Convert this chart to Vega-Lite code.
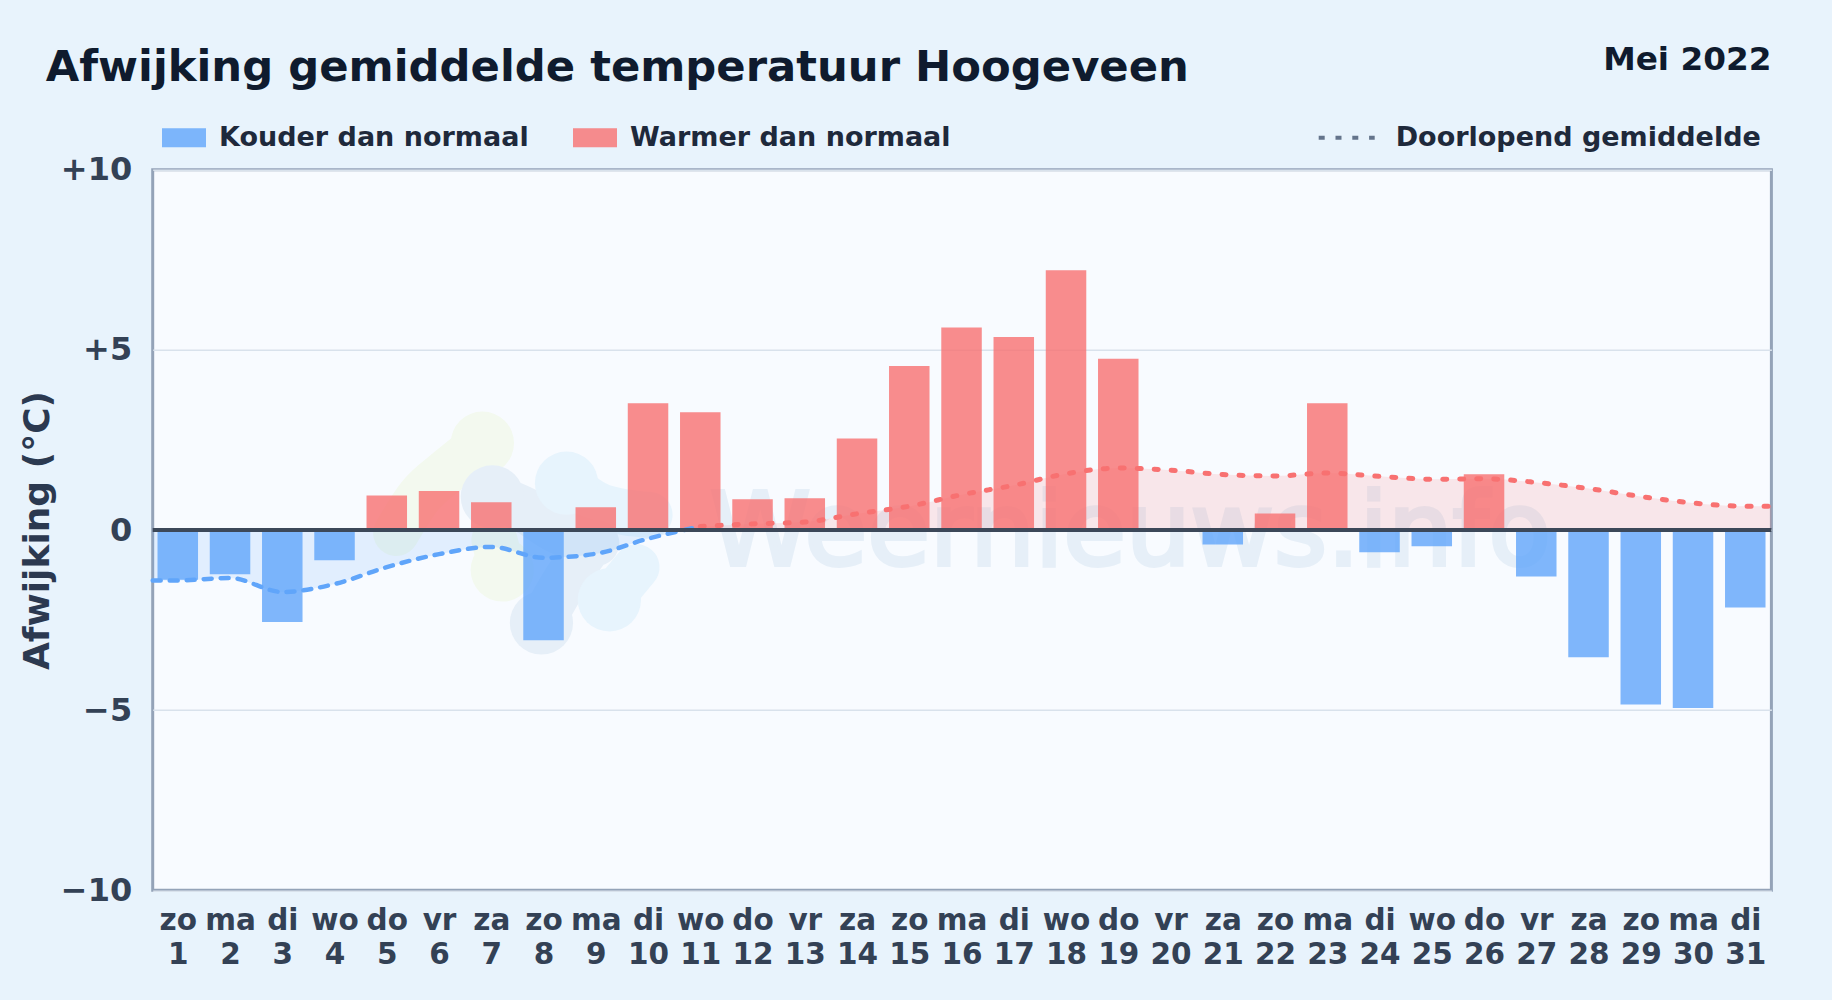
{"$schema":"https://vega.github.io/schema/vega-lite/v6.json","width":1618.7,"height":720.6,"autosize":{"type":"none"},"padding":{"left":152.7,"top":169.7,"right":60.6,"bottom":109.7},"background":"#e8f3fc","title":{"text":"Afwijking gemiddelde temperatuur Hoogeveen","anchor":"start","frame":"group","dx":-107,"offset":-80.5,"baseline":"alphabetic","font":"DejaVu Sans","fontSize":43.3,"fontWeight":"bold","color":"#0f1b2e"},"config":{"view":{"fill":"#f8fbff","stroke":"#94a3b8","strokeWidth":3},"font":"DejaVu Sans"},"datasets":{"dagen":[{"dag":1,"afw":-1.38,"soort":"Kouder dan normaal"},{"dag":2,"afw":-1.23,"soort":"Kouder dan normaal"},{"dag":3,"afw":-2.55,"soort":"Kouder dan normaal"},{"dag":4,"afw":-0.84,"soort":"Kouder dan normaal"},{"dag":5,"afw":0.96,"soort":"Warmer dan normaal"},{"dag":6,"afw":1.08,"soort":"Warmer dan normaal"},{"dag":7,"afw":0.77,"soort":"Warmer dan normaal"},{"dag":8,"afw":-3.06,"soort":"Kouder dan normaal"},{"dag":9,"afw":0.63,"soort":"Warmer dan normaal"},{"dag":10,"afw":3.52,"soort":"Warmer dan normaal"},{"dag":11,"afw":3.27,"soort":"Warmer dan normaal"},{"dag":12,"afw":0.85,"soort":"Warmer dan normaal"},{"dag":13,"afw":0.88,"soort":"Warmer dan normaal"},{"dag":14,"afw":2.54,"soort":"Warmer dan normaal"},{"dag":15,"afw":4.55,"soort":"Warmer dan normaal"},{"dag":16,"afw":5.62,"soort":"Warmer dan normaal"},{"dag":17,"afw":5.36,"soort":"Warmer dan normaal"},{"dag":18,"afw":7.21,"soort":"Warmer dan normaal"},{"dag":19,"afw":4.75,"soort":"Warmer dan normaal"},{"dag":20,"afw":0,"soort":"Warmer dan normaal"},{"dag":21,"afw":-0.4,"soort":"Kouder dan normaal"},{"dag":22,"afw":0.46,"soort":"Warmer dan normaal"},{"dag":23,"afw":3.52,"soort":"Warmer dan normaal"},{"dag":24,"afw":-0.62,"soort":"Kouder dan normaal"},{"dag":25,"afw":-0.45,"soort":"Kouder dan normaal"},{"dag":26,"afw":1.55,"soort":"Warmer dan normaal"},{"dag":27,"afw":-1.29,"soort":"Kouder dan normaal"},{"dag":28,"afw":-3.53,"soort":"Kouder dan normaal"},{"dag":29,"afw":-4.84,"soort":"Kouder dan normaal"},{"dag":30,"afw":-4.94,"soort":"Kouder dan normaal"},{"dag":31,"afw":-2.15,"soort":"Kouder dan normaal"}],"koud":[{"dag":0.52,"gem":-1.4},{"dag":1,"gem":-1.4},{"dag":2,"gem":-1.33},{"dag":3,"gem":-1.72},{"dag":4,"gem":-1.5},{"dag":5,"gem":-1.03},{"dag":6,"gem":-0.67},{"dag":7,"gem":-0.47},{"dag":8,"gem":-0.77},{"dag":9,"gem":-0.66},{"dag":10,"gem":-0.24},{"dag":11,"gem":0.1}],"warm":[{"dag":11,"gem":0.1},{"dag":12,"gem":0.17},{"dag":13,"gem":0.22},{"dag":14,"gem":0.45},{"dag":15,"gem":0.66},{"dag":16,"gem":0.98},{"dag":17,"gem":1.24},{"dag":18,"gem":1.56},{"dag":19,"gem":1.72},{"dag":20,"gem":1.66},{"dag":21,"gem":1.54},{"dag":22,"gem":1.5},{"dag":23,"gem":1.58},{"dag":24,"gem":1.49},{"dag":25,"gem":1.41},{"dag":26,"gem":1.42},{"dag":27,"gem":1.32},{"dag":28,"gem":1.15},{"dag":29,"gem":0.93},{"dag":30,"gem":0.75},{"dag":31,"gem":0.66},{"dag":31.5,"gem":0.66}],"logo":[{"vlek":"groen","volg":1,"dag":6.83,"w":2.41},{"vlek":"groen","volg":2,"dag":6.19,"w":1.67},{"vlek":"groen","volg":3,"dag":5.62,"w":0.92},{"vlek":"groen","volg":4,"dag":5.18,"w":-0.08},{"vlek":"groen2","volg":1,"dag":7.21,"w":-1.11},{"vlek":"groen2","volg":2,"dag":7.06,"w":-0.28},{"vlek":"blauw","volg":1,"dag":8.44,"w":1.3},{"vlek":"blauw","volg":2,"dag":9.13,"w":0.64},{"vlek":"blauw","volg":3,"dag":10.03,"w":0.42},{"vlek":"blauw2","volg":1,"dag":9.78,"w":-1.03},{"vlek":"blauw2","volg":2,"dag":9.26,"w":-1.94},{"vlek":"leisteen","volg":1,"dag":7.02,"w":0.92},{"vlek":"leisteen","volg":2,"dag":7.63,"w":0.56},{"vlek":"leisteen","volg":3,"dag":8.25,"w":0},{"vlek":"leisteen","volg":4,"dag":9.01,"w":-0.36},{"vlek":"leisteen","volg":5,"dag":8.49,"w":-1.25},{"vlek":"leisteen","volg":6,"dag":7.96,"w":-2.58}],"logoRond":[{"vlek":"groen","dag":6.83,"w":2.41},{"vlek":"groen2","dag":7.21,"w":-1.11},{"vlek":"blauw","dag":8.44,"w":1.3},{"vlek":"blauw2","dag":9.26,"w":-1.94},{"vlek":"leisteen","dag":7.02,"w":0.92},{"vlek":"leisteen","dag":7.96,"w":-2.58}]},"layer":[{"data":{"name":"logo"},"mark":{"type":"line","strokeWidth":46,"strokeCap":"round","strokeJoin":"round","interpolate":"monotone"},"encoding":{"x":{"field":"dag","type":"quantitative","scale":{"domain":[0.52,31.5],"nice":false,"zero":false,"padding":0},"axis":{"values":[1,2,3,4,5,6,7,8,9,10,11,12,13,14,15,16,17,18,19,20,21,22,23,24,25,26,27,28,29,30,31],"title":null,"grid":false,"domain":false,"ticks":false,"labelOverlap":false,"labelFlush":false,"labelPadding":16,"labelFont":"DejaVu Sans","labelFontSize":29.5,"labelFontWeight":"bold","labelColor":"#334155","labelLineHeight":34,"labelExpr":"[['zo','1'],['ma','2'],['di','3'],['wo','4'],['do','5'],['vr','6'],['za','7'],['zo','8'],['ma','9'],['di','10'],['wo','11'],['do','12'],['vr','13'],['za','14'],['zo','15'],['ma','16'],['di','17'],['wo','18'],['do','19'],['vr','20'],['za','21'],['zo','22'],['ma','23'],['di','24'],['wo','25'],['do','26'],['vr','27'],['za','28'],['zo','29'],['ma','30'],['di','31']][datum.value-1]"}},"y":{"field":"w","type":"quantitative","scale":{"domain":[-10,10],"nice":false},"axis":{"values":[-10,-5,0,5,10],"title":"Afwijking (°C)","titleFont":"DejaVu Sans","titleFontSize":36,"titleFontWeight":"bold","titleColor":"#2b3950","titleX":-96,"grid":true,"gridColor":"#d9e2ec","gridWidth":1.5,"domain":false,"ticks":false,"labelPadding":21,"labelFont":"DejaVu Sans","labelFontSize":32,"labelFontWeight":"bold","labelColor":"#334155","labelExpr":"datum.value>0?'+'+datum.value:datum.value<0?'−'+abs(datum.value):'0'"}},"order":{"field":"volg","type":"quantitative"},"detail":{"field":"vlek"},"stroke":{"field":"vlek","type":"nominal","scale":{"domain":["groen","groen2","leisteen","blauw","blauw2"],"range":["#f3f9ef","#f3f9ef","#e6eff8","#e7f4fd","#e7f4fd"]},"legend":null}}},{"data":{"name":"logoRond"},"mark":{"type":"point","filled":true,"opacity":1,"size":4000,"strokeWidth":0},"encoding":{"x":{"field":"dag","type":"quantitative"},"y":{"field":"w","type":"quantitative"},"fill":{"field":"vlek","type":"nominal","scale":{"domain":["groen","groen2","leisteen","blauw","blauw2"],"range":["#f3f9ef","#f3f9ef","#e6eff8","#e7f4fd","#e7f4fd"]},"legend":null}}},{"data":{"values":[{"merk":"Weernieuws.info","dag":19.23,"w":-0.97}]},"mark":{"type":"text","font":"DejaVu Sans","fontSize":102,"align":"center","baseline":"alphabetic","color":"#e6eff8","stroke":"#e6eff8","strokeWidth":4},"encoding":{"x":{"field":"dag","type":"quantitative"},"y":{"field":"w","type":"quantitative"},"text":{"field":"merk"}}},{"data":{"name":"koud"},"mark":{"type":"area","interpolate":"monotone","color":"#60a5fa","opacity":0.15},"encoding":{"x":{"field":"dag","type":"quantitative"},"y":{"field":"gem","type":"quantitative"},"y2":{"datum":0}}},{"data":{"name":"warm"},"mark":{"type":"area","interpolate":"monotone","color":"#f87171","opacity":0.15},"encoding":{"x":{"field":"dag","type":"quantitative"},"y":{"field":"gem","type":"quantitative"},"y2":{"datum":0}}},{"data":{"name":"dagen"},"mark":{"type":"bar","size":40.5,"orient":"vertical","opacity":0.8},"encoding":{"x":{"field":"dag","type":"quantitative"},"y":{"field":"afw","type":"quantitative","stack":null},"y2":{"datum":0},"color":{"field":"soort","type":"nominal","scale":{"domain":["Kouder dan normaal","Warmer dan normaal"],"range":["#60a5fa","#f87171"]},"legend":{"title":null,"orient":"none","legendX":9.3,"legendY":-54,"direction":"horizontal","columns":2,"columnPadding":44,"padding":0,"offset":0,"symbolType":"M-1,-0.43H1V0.43H-1Z","symbolSize":1936,"symbolOpacity":0.8,"symbolStrokeWidth":0,"labelOffset":13,"labelFont":"DejaVu Sans","labelFontSize":27,"labelFontWeight":"bold","labelColor":"#1e293b","labelLimit":500}}}},{"data":{"name":"koud"},"mark":{"type":"line","interpolate":"monotone","color":"#60a5fa","strokeWidth":4.5,"strokeCap":"round","strokeDash":[8,9]},"encoding":{"x":{"field":"dag","type":"quantitative"},"y":{"field":"gem","type":"quantitative"}}},{"data":{"name":"warm"},"mark":{"type":"line","interpolate":"monotone","color":"#f87171","strokeWidth":5,"strokeCap":"round","strokeDash":[4,13]},"encoding":{"x":{"field":"dag","type":"quantitative"},"y":{"field":"gem","type":"quantitative"}}},{"data":{"values":[{"dag":31.5,"gem":0.66,"lijn":"Doorlopend gemiddelde"}]},"mark":{"type":"line","color":"#64748b","strokeWidth":4},"encoding":{"x":{"field":"dag","type":"quantitative"},"y":{"field":"gem","type":"quantitative"},"strokeDash":{"field":"lijn","type":"nominal","scale":{"domain":["Doorlopend gemiddelde"],"range":[[6,10.8]]},"legend":{"title":null,"orient":"none","legendX":1164,"legendY":-62,"padding":0,"symbolType":"stroke","symbolSize":3136,"symbolStrokeWidth":4,"labelOffset":19,"labelFont":"DejaVu Sans","labelFontSize":27,"labelFontWeight":"bold","labelColor":"#1e293b","labelLimit":500}}}},{"data":{"values":[{"nul":0}]},"mark":{"type":"rule","color":"#3c4859","strokeWidth":4},"encoding":{"y":{"field":"nul","type":"quantitative"}}},{"data":{"values":[{"tekst":"Mei 2022","dag":31.5,"w":12.78}]},"mark":{"type":"text","font":"DejaVu Sans","fontSize":32.7,"fontWeight":"bold","align":"right","baseline":"alphabetic","color":"#0f1b2e"},"encoding":{"x":{"field":"dag","type":"quantitative"},"y":{"field":"w","type":"quantitative"},"text":{"field":"tekst"}}}]}
